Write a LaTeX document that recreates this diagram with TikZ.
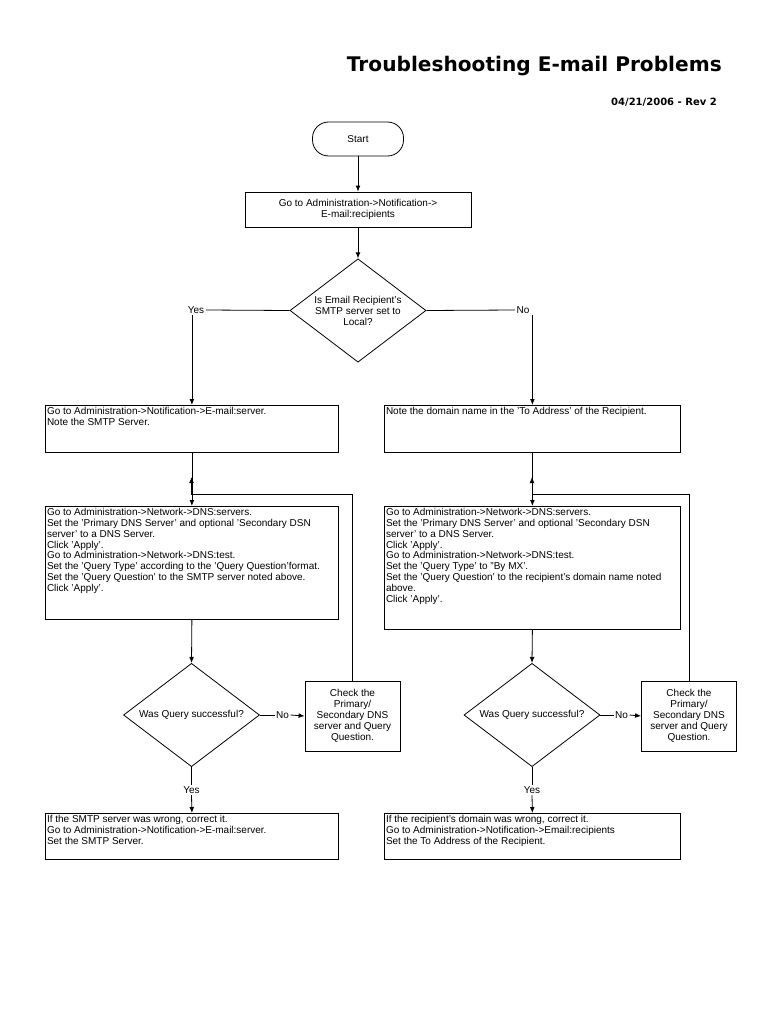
\documentclass[tikz,border=0pt]{standalone}
\usepackage{fontspec}
\setmainfont{Liberation Sans}
\newfontfamily\titlefont{DejaVu Sans}
\usepackage{tikz}
\usetikzlibrary{arrows.meta,positioning,shapes.geometric}

\newcommand{\toptext}[3]{\parbox[c][#2][t]{#1}{\raggedright #3}}
\newcommand{\bodyfont}{\fontsize{7.5}{8.2}\selectfont}

\tikzset{
  flowline/.style={line width=0.6pt},
  arrow/.style={flowline,-{Latex[length=4.5pt,width=3.6pt]}},
  stepbox/.style={draw,flowline,anchor=north west,inner sep=1.2pt,font=\bodyfont},
  startbox/.style={draw,flowline,rounded corners=12pt,minimum width=68.25pt,minimum height=25.5pt,font=\bodyfont},
  centerbox/.style={draw,flowline,align=center,inner sep=1pt,font=\bodyfont},
  decision/.style={draw,flowline,diamond,aspect=1.31,inner sep=0pt,minimum width=102pt,minimum height=77.5pt,align=center,font=\bodyfont},
  answer/.style={inner sep=1pt,font=\bodyfont}
}

\begin{document}
\begin{tikzpicture}[x=0.75pt,y=-0.75pt]
  \fill[white] (0,0) rectangle (768,1024);
  \useasboundingbox (0,0) rectangle (768,1024);

  \node[anchor=base east,inner sep=0pt,font=\titlefont\bfseries\fontsize{15.1}{18}\selectfont] (title) at (722,72) {Troubleshooting E-mail Problems};
  \node[anchor=base east,inner sep=0pt,font=\titlefont\bfseries\fontsize{7.5}{9}\selectfont] (date) at (717,105) {04/21/2006 - Rev 2};

  \node[startbox] (start) at (358,139) {Start};
  \node[centerbox,minimum width=169.5pt,minimum height=26.25pt] (recip) at (358,209.5) {Go to Administration->Notification->\\E-mail:recipients};
  \node[decision] (local) at (358,310.5) {Is Email Recipient's\\SMTP server set to\\Local?};
  \node[answer] (lyes) at (196,310) {Yes};
  \node[answer] (rno) at (523,310) {No};

  \node[stepbox] (lnote) at (45,405) {\toptext{217.35pt}{32.85pt}{Go to Administration->Notification->E-mail:server.\\Note the SMTP Server.}};
  \node[stepbox] (rnote) at (384,405) {\toptext{219.6pt}{32.85pt}{Note the domain name in the 'To Address' of the Recipient.}};

  \node[stepbox] (ldns) at (45,506) {\toptext{217.35pt}{82.35pt}{Go to Administration->Network->DNS:servers.\\
    Set the 'Primary DNS Server' and optional 'Secondary DSN\\server' to a DNS Server.\\
    Click 'Apply'.\\
    Go to Administration->Network->DNS:test.\\
    Set the 'Query Type' according to the 'Query Question'format.\\
    Set the 'Query Question' to the SMTP server noted above.\\
    Click 'Apply'.}};
  \node[stepbox] (rdns) at (384,506) {\toptext{219.6pt}{89.85pt}{Go to Administration->Network->DNS:servers.\\
    Set the 'Primary DNS Server' and optional 'Secondary DSN\\server' to a DNS Server.\\
    Click 'Apply'.\\
    Go to Administration->Network->DNS:test.\\
    Set the 'Query Type' to "By MX'.\\
    Set the 'Query Question' to the recipient's domain name noted\\above.\\
    Click 'Apply'.}};

  \node[decision] (lquery) at (191.5,715) {Was Query successful?};
  \node[decision] (rquery) at (532,715) {Was Query successful?};
  \node[centerbox,minimum width=71.25pt,minimum height=52.5pt] (lcheck) at (352.5,716) {Check the\\Primary/\\Secondary DNS\\server and Query\\Question.};
  \node[centerbox,minimum width=71.25pt,minimum height=52.5pt] (rcheck) at (689,716) {Check the\\Primary/\\Secondary DNS\\server and Query\\Question.};
  \node[answer] (lno) at (282.5,715) {No};
  \node[answer] (rno2) at (621.5,715) {No};
  \node[answer] (lyes2) at (191.5,790) {Yes};
  \node[answer] (ryes2) at (532,790) {Yes};

  \node[stepbox] (lfix) at (45,813) {\toptext{217.35pt}{32.1pt}{If the SMTP server was wrong, correct it.\\
    Go to Administration->Notification->E-mail:server.\\
    Set the SMTP Server.}};
  \node[stepbox] (rfix) at (384,813) {\toptext{219.6pt}{32.1pt}{If the recipient's domain was wrong, correct it.\\
    Go to Administration->Notification->Email:recipients\\
    Set the To Address of the Recipient.}};

  \coordinate (lturn) at (191.5,494);
  \coordinate (lback) at (191.5,477);
  \coordinate (rturn) at (532,494);
  \coordinate (rback) at (532,477);

  \draw[arrow] (start) -- (recip);
  \draw[arrow] (recip) -- (local);
  \draw[flowline] (local.west) -- (lyes.east);
  \draw[arrow] (lyes.south -| lnote.north) -- (lnote.north);
  \draw[flowline] (local.east) -- (rno.west);
  \draw[arrow] (rno.south -| rnote.north) -- (rnote.north);

  \draw[arrow] (lnote.south) -- (ldns.north);
  \draw[arrow] (rnote.south) -- (rdns.north);
  \draw[arrow] (lcheck.north) |- (lturn) -- (lback);
  \draw[arrow] (rcheck.north) |- (rturn) -- (rback);

  \draw[arrow] (ldns.south) -- (lquery.north);
  \draw[arrow] (rdns.south) -- (rquery.north);
  \draw[flowline] (lquery.east) -- (lno.west);
  \draw[arrow] (lno.east) -- (lcheck.west);
  \draw[flowline] (rquery.east) -- (rno2.west);
  \draw[arrow] (rno2.east) -- (rcheck.west);
  \draw[flowline] (lquery.south) -- (lyes2.north);
  \draw[arrow] (lyes2.south) -- (lfix.north);
  \draw[flowline] (rquery.south) -- (ryes2.north);
  \draw[arrow] (ryes2.south) -- (rfix.north);
\end{tikzpicture}
\end{document}
